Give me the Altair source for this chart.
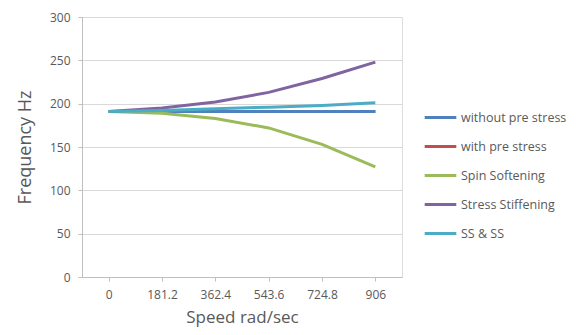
import altair as alt
import pandas as pd

speeds = ["0", "181.2", "362.4", "543.6", "724.8", "906"]
series_names = ["without pre stress", "with pre stress", "Spin Softening", "Stress Stiffening", "SS & SS"]
without_pre = [191, 191, 191, 191, 191, 191]
with_pre = [191, 191, 191, 191, 191, 191]
spin_soft = [191, 189, 183, 172, 153, 127]
stress_stiff = [191, 195, 202, 213, 229, 248]
ss_ss = [191, 192, 194, 196, 198, 201]
colors = ["#4F81BD", "#C0504D", "#9BBB59", "#8064A2", "#4BACC6"]

rows = []
for name, vals in zip(series_names, [without_pre, with_pre, spin_soft, stress_stiff, ss_ss]):
    for s, v in zip(speeds, vals):
        rows.append({"Speed": s, "Frequency": v, "Series": name})
df = pd.DataFrame(rows)

x_enc = alt.X("Speed:N", sort=speeds, title="Speed rad/sec",
              scale=alt.Scale(padding=0.5),
              axis=alt.Axis(labelAngle=0, grid=False, domainColor="#bfbfbf", tickColor="#bfbfbf",
                            labelColor="#595959", labelFontSize=12, titleFontSize=17,
                            titleColor="#595959", titleFontWeight="normal", labelPadding=8,
                            titlePadding=9, tickSize=4))
y_enc = alt.Y("Frequency:Q", title="Frequency Hz",
              scale=alt.Scale(domain=[0, 300]),
              axis=alt.Axis(values=[0, 50, 100, 150, 200, 250, 300], gridColor="#d9d9d9",
                            domainColor="#bfbfbf", tickColor="#bfbfbf", labelColor="#595959",
                            labelFontSize=12, titleFontSize=18, titleColor="#595959",
                            titleFontWeight="normal", tickSize=4, labelPadding=8, titlePadding=15))
color_enc = alt.Color("Series:N", sort=series_names,
                      scale=alt.Scale(domain=series_names, range=colors),
                      legend=alt.Legend(title=None, orient="none", legendX=341, legendY=83,
                                        symbolType="stroke", symbolStrokeWidth=3, symbolSize=1000,
                                        labelFontSize=12.5, labelColor="#595959", rowPadding=5,
                                        labelOffset=3))

base = alt.Chart(df).mark_line(strokeWidth=3)
red = base.transform_filter(alt.datum.Series == "with pre stress").encode(x=x_enc, y=y_enc, color=color_enc)
rest = base.transform_filter(alt.datum.Series != "with pre stress").encode(x=x_enc, y=y_enc, color=color_enc)

chart = alt.layer(red, rest).properties(
    width=320, height=260, padding={"left": 74, "top": 9, "right": 166, "bottom": 50},
    autosize="none").configure_view(stroke=None).configure(font="Open Sans")

chart.save("out.html", embed_options={"renderer": "svg", "actions": False})
